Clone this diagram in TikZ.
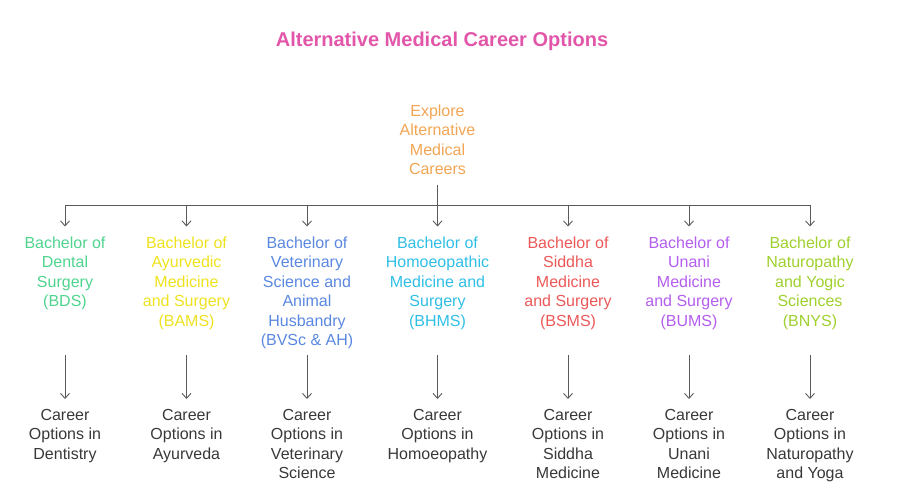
\documentclass[tikz,border=0pt]{standalone}
\usepackage{fontspec}
\setmainfont{Liberation Sans}
\usetikzlibrary{arrows.meta, positioning}
\definecolor{titlepink}{HTML}{E256A9}
\definecolor{rootorange}{HTML}{F2A553}
\definecolor{cdental}{HTML}{4FD48E}
\definecolor{cayur}{HTML}{EEE21E}
\definecolor{cvet}{HTML}{5A88E0}
\definecolor{chomoeo}{HTML}{2FBFE6}
\definecolor{csiddha}{HTML}{EC5858}
\definecolor{cunani}{HTML}{B45DEE}
\definecolor{cnaturo}{HTML}{9FD02E}
\definecolor{linegray}{HTML}{5A5A5A}
\tikzstyle{txt} = [align=center, inner sep=0pt, outer ysep=10pt, anchor=north, font=\fontsize{16}{19.5}\selectfont]
\tikzstyle{degree} = [txt]
\tikzstyle{career} = [txt, text=black!78]
\tikzstyle{conn} = [draw=linegray, line width=0.9pt]
\tikzstyle{arrow} = [conn, -{Straight Barb[length=5pt, width=9pt]}]

\begin{document}
\begin{tikzpicture}[x=1pt, y=-1pt]
\useasboundingbox (0,0) rectangle (900,498);

\node (title) [anchor=north, inner sep=0pt, font=\fontsize{20}{24}\selectfont\bfseries, text=titlepink] at (442,31.5) {Alternative Medical Career Options};
\node (root) [txt, text=rootorange] at (437.5,94.5) {Explore\\Alternative\\Medical\\Careers};

\coordinate (bar) at (0,205);
\coordinate (mid) at (0,355);

\node (bds) [degree, text=cdental] at (65,226.5) {Bachelor of\\Dental\\Surgery\\(BDS)};
\node (bams) [degree, text=cayur] at (186.5,226.5) {Bachelor of\\Ayurvedic\\Medicine\\and Surgery\\(BAMS)};
\node (bvsc) [degree, text=cvet] at (307,226.5) {Bachelor of\\Veterinary\\Science and\\Animal\\Husbandry\\(BVSc \& AH)};
\node (bhms) [degree, text=chomoeo] at (437.5,226.5) {Bachelor of\\Homoeopathic\\Medicine and\\Surgery\\(BHMS)};
\node (bsms) [degree, text=csiddha] at (568,226.5) {Bachelor of\\Siddha\\Medicine\\and Surgery\\(BSMS)};
\node (bums) [degree, text=cunani] at (689,226.5) {Bachelor of\\Unani\\Medicine\\and Surgery\\(BUMS)};
\node (bnys) [degree, text=cnaturo] at (810,226.5) {Bachelor of\\Naturopathy\\and Yogic\\Sciences\\(BNYS)};

\node (dent) [career] at (65,399) {Career\\Options in\\Dentistry};
\node (ayur) [career] at (186.5,399) {Career\\Options in\\Ayurveda};
\node (vet) [career] at (307,399) {Career\\Options in\\Veterinary\\Science};
\node (homoeo) [career] at (437.5,399) {Career\\Options in\\Homoeopathy};
\node (siddha) [career] at (568,399) {Career\\Options in\\Siddha\\Medicine};
\node (unani) [career] at (689,399) {Career\\Options in\\Unani\\Medicine};
\node (naturo) [career] at (810,399) {Career\\Options in\\Naturopathy\\and Yoga};

% tree from the root
\draw [conn] (root) -- (root |- bar);
\draw [conn] (bar -| bds) -- (bar -| bnys);
\draw [arrow] (bar -| bds) -- (bds);
\draw [arrow] (bar -| bams) -- (bams);
\draw [arrow] (bar -| bvsc) -- (bvsc);
\draw [arrow] (bar -| bhms) -- (bhms);
\draw [arrow] (bar -| bsms) -- (bsms);
\draw [arrow] (bar -| bums) -- (bums);
\draw [arrow] (bar -| bnys) -- (bnys);

% degree to career
\draw [arrow] (mid -| bds) -- (dent);
\draw [arrow] (mid -| bams) -- (ayur);
\draw [arrow] (mid -| bvsc) -- (vet);
\draw [arrow] (mid -| bhms) -- (homoeo);
\draw [arrow] (mid -| bsms) -- (siddha);
\draw [arrow] (mid -| bums) -- (unani);
\draw [arrow] (mid -| bnys) -- (naturo);

\end{tikzpicture}
\end{document}
